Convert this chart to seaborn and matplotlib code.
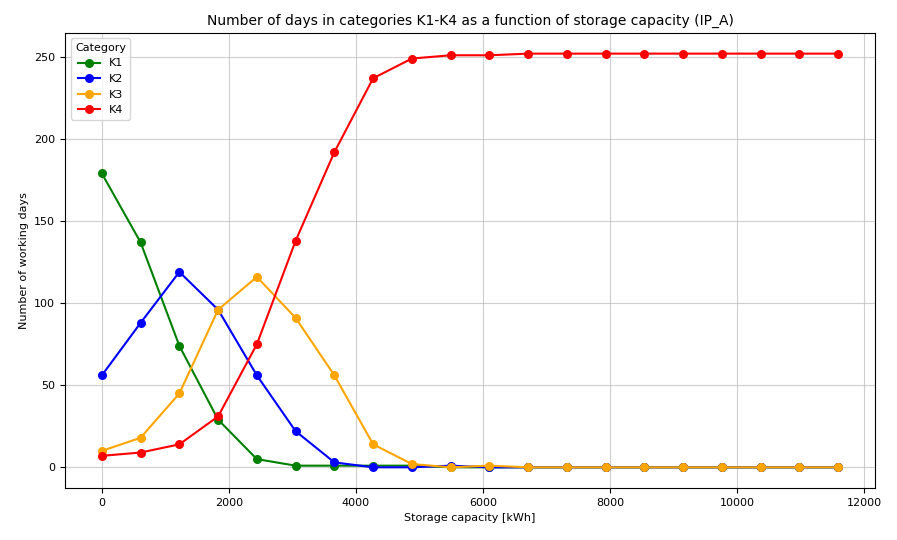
import pandas as pd
import matplotlib
matplotlib.use("Agg")
import matplotlib.pyplot as plt
import seaborn as sns

# storage capacity steps [kWh]
capacity = [0, 610, 1220, 1830, 2440, 3050, 3660, 4270, 4880, 5490,
            6100, 6710, 7320, 7930, 8540, 9150, 9760, 10370, 10980, 11590]

k1 = [179, 137, 74, 29, 5, 1, 1, 1, 1, 0, 0, 0, 0, 0, 0, 0, 0, 0, 0, 0]
k2 = [56, 88, 119, 96, 56, 22, 3, 0, 0, 1, 0, 0, 0, 0, 0, 0, 0, 0, 0, 0]
k3 = [10, 18, 45, 96, 116, 91, 56, 14, 2, 0, 1, 0, 0, 0, 0, 0, 0, 0, 0, 0]
k4 = [7, 9, 14, 31, 75, 138, 192, 237, 249, 251, 251, 252, 252, 252, 252,
      252, 252, 252, 252, 252]

categories = ["K1", "K2", "K3", "K4"]
colors = {"K1": "green", "K2": "blue", "K3": "orange", "K4": "red"}

rows = []
for cat, vals in zip(categories, [k1, k2, k3, k4]):
    for c, v in zip(capacity, vals):
        rows.append({"Storage capacity [kWh]": c, "Number of working days": v, "Category": cat})
df = pd.DataFrame(rows)

fig = plt.figure(figsize=(8.97, 5.40), dpi=100)
ax = fig.add_axes([0.0725, 0.0963, 0.903, 0.8427])

sns.lineplot(data=df, x="Storage capacity [kWh]", y="Number of working days",
             hue="Category", palette=colors, marker="o", markersize=6.5,
             markeredgewidth=0, linewidth=1.5, ax=ax)

ax.set_title("Number of days in categories K1-K4 as a function of storage capacity (IP_A)", fontsize=10)
ax.set_xlabel("Storage capacity [kWh]", fontsize=8)
ax.set_ylabel("Number of working days", fontsize=8)
ax.tick_params(labelsize=8)
ax.grid(True, alpha=0.6)
ax.legend(title="Category", loc="upper left", fontsize=8, title_fontsize=8)

fig.savefig("out.png", dpi=100)
